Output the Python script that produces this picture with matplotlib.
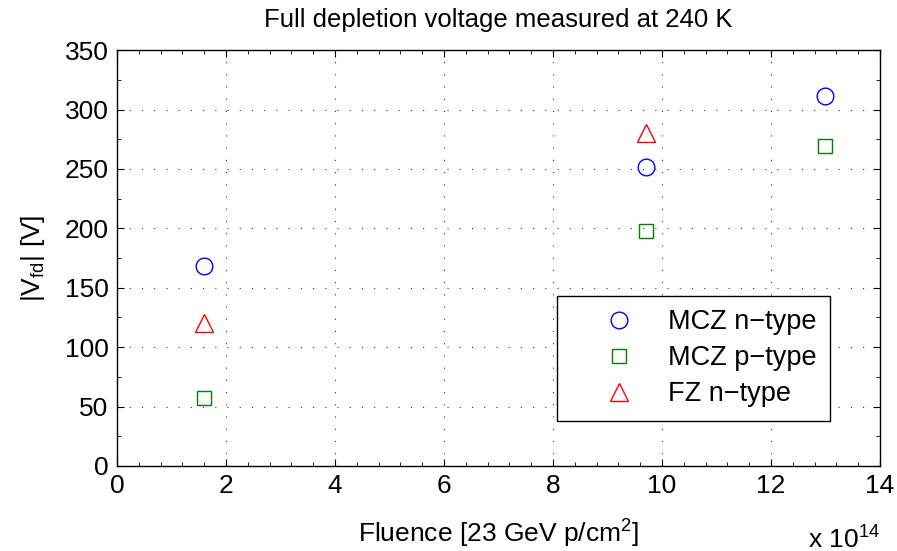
import matplotlib
matplotlib.use("Agg")
import matplotlib.pyplot as plt
from matplotlib.ticker import MultipleLocator

plt.rcParams['font.family'] = ['Liberation Sans', 'DejaVu Sans']

# Fluence in units of 1e14 p/cm^2
mcz_n_fluence = [1.6, 9.7, 13.0]
mcz_n_vfd = [168, 252, 311]
mcz_p_fluence = [1.6, 9.7, 13.0]
mcz_p_vfd = [57, 198, 269]
fz_n_fluence = [1.6, 9.7]
fz_n_vfd = [120, 280]

fig = plt.figure(figsize=(8.97, 5.51), dpi=100)
ax = fig.add_axes([0.1304, 0.1543, 0.8506, 0.7547])

ax.plot(mcz_n_fluence, mcz_n_vfd, 'o', mfc='none', mec='#0000ff', ms=12, mew=1.0,
        label="MCZ n\u2212type")
ax.plot(mcz_p_fluence, mcz_p_vfd, 's', mfc='none', mec='#007f00', ms=9.5, mew=1.0,
        label="MCZ p\u2212type")
ax.plot(fz_n_fluence, fz_n_vfd, '^', mfc='none', mec='#ff0000', ms=13, mew=1.0,
        label="FZ n\u2212type")

ax.set_xlim(0, 14)
ax.set_ylim(0, 350)
ax.xaxis.set_major_locator(MultipleLocator(2))
ax.xaxis.set_minor_locator(MultipleLocator(0.4))
ax.yaxis.set_major_locator(MultipleLocator(50))
ax.yaxis.set_minor_locator(MultipleLocator(25))
ax.tick_params(which='both', direction='in', top=True, right=True, labelsize=19)
ax.tick_params(which='major', length=5, pad=6)
ax.tick_params(which='minor', length=3)
ax.grid(True, which='major', linestyle=(0, (1, 10)), color='#333333', linewidth=0.8)
for s in ax.spines.values():
    s.set_linewidth(1.0)

ax.set_title("Full depletion voltage measured at 240 K", fontsize=18.5, pad=17)
ax.set_xlabel("Fluence [23 GeV p/cm$^\\mathregular{2}$]", fontsize=19, labelpad=13)
ax.set_ylabel("|V$_\\mathregular{fd}$| [V]", fontsize=19, labelpad=13)
ax.text(1.0, -0.175, "x 10$^\\mathregular{14}$", transform=ax.transAxes,
        ha='right', va='center', fontsize=19)

leg = ax.legend(loc='lower right', bbox_to_anchor=(0.935, 0.109), fontsize=19.5,
                fancybox=False, edgecolor='black', framealpha=1,
                handlelength=3.55, handletextpad=0.05, borderpad=0.5,
                labelspacing=0.37, borderaxespad=0)
leg.get_frame().set_linewidth(1.0)

plt.savefig("out.png", dpi=100)
plt.close()
